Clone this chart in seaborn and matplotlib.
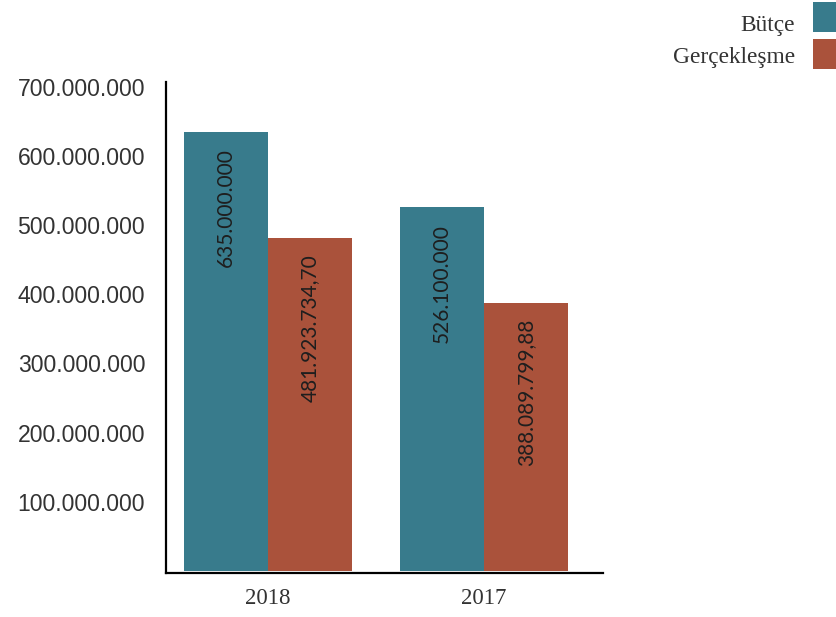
import matplotlib
matplotlib.use("Agg")
import matplotlib.pyplot as plt
import seaborn as sns
import pandas as pd
from matplotlib.patches import Rectangle
from matplotlib.ticker import FuncFormatter

years = ["2018", "2017"]
series = ["Bütçe", "Gerçekleşme"]
butce = [635000000, 526100000]
gerceklesme = [481923734.70, 388089799.88]
bar_labels_butce = ["635.000.000", "526.100.000"]
bar_labels_gerc = ["481.923.734,70", "388.089.799,88"]
yticks = [100000000, 200000000, 300000000, 400000000, 500000000, 600000000, 700000000]

colors = {"Bütçe": "#387B8C", "Gerçekleşme": "#AA523B"}

df = pd.DataFrame({
    "Yıl": years * 2,
    "Seri": [series[0]] * 2 + [series[1]] * 2,
    "Değer": butce + gerceklesme,
})

sns.set_theme(style="white")
W, H = 837, 617
fig = plt.figure(figsize=(W / 100, H / 100), dpi=100)
ax = fig.add_axes([0.1983, 0.0713, 0.5221, 0.7958])

sns.barplot(data=df, x="Yıl", y="Değer", hue="Seri", order=years,
            hue_order=series, palette=colors, width=0.78, saturation=1,
            ax=ax, legend=False, linewidth=0)

ax.set_xlim(-0.472, 1.551)
ax.set_ylim(-3.0e6, 707e6)
ax.set_yticks(yticks)
ax.yaxis.set_major_formatter(FuncFormatter(lambda v, p: f"{int(v):,}".replace(",", ".")))
ax.set_xlabel("")
ax.set_ylabel("")

for lab in ax.get_yticklabels():
    lab.set_fontfamily("Liberation Sans")
    lab.set_fontsize(16.6)
    lab.set_color("#333333")
for lab in ax.get_xticklabels():
    lab.set_fontfamily("Liberation Serif")
    lab.set_fontsize(16.5)
    lab.set_color("#333333")
ax.tick_params(axis="y", length=0, pad=15)
ax.tick_params(axis="x", length=0, pad=11)

for s in ["top", "right"]:
    ax.spines[s].set_visible(False)
for s in ["left", "bottom"]:
    ax.spines[s].set_color("black")
    ax.spines[s].set_linewidth(1.6)

labels_all = [bar_labels_butce, bar_labels_gerc]
for cont, labs in zip(ax.containers, labels_all):
    for rect, txt in zip(cont, labs):
        x = rect.get_x() + rect.get_width() / 2
        h = rect.get_height()
        ax.annotate(txt, (x, h), xytext=(0, -12), textcoords="offset points",
                    rotation=90, ha="center", va="top", fontsize=15,
                    family="Lato", fontweight="normal", color="#1e1e1e")

# legend (top right): colour squares with right-aligned labels
legend_rows = [(2, 31), (39, 63)]  # (square top px, text baseline px)
for s, (top, base) in zip(series, legend_rows):
    fig.add_artist(Rectangle((813 / W, 1 - (top + 30) / H), 24 / W, 30 / H,
                             transform=fig.transFigure, facecolor=colors[s],
                             edgecolor="none"))
    fig.text(795 / W, 1 - base / H, s, ha="right", va="baseline",
             family="Liberation Serif", fontsize=16.8, color="#333333")

fig.savefig("out.png", dpi=100)
